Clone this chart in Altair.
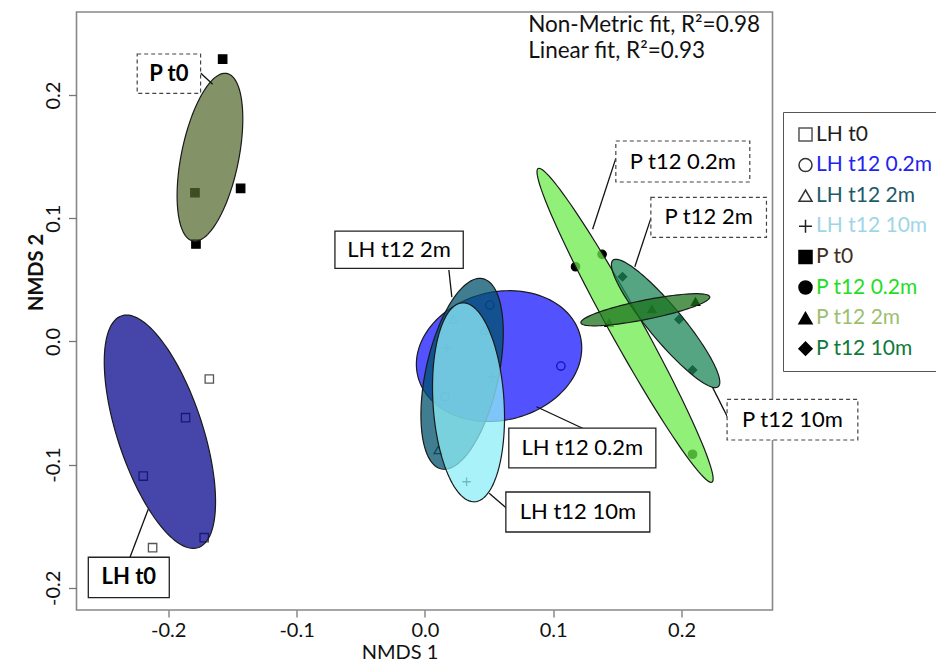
import altair as alt
import pandas as pd
import numpy as np

FONT = "Lato"

groups = ["LH t0", "LH t12 0.2m", "LH t12 2m", "LH t12 10m",
          "P t0", "P t12 0.2m", "P t12 2m", "P t12 10m"]

# ---- sample scores (NMDS 1, NMDS 2) ----
lh_t0_x = [-0.168, -0.1865, -0.2195, -0.172, -0.2122]
lh_t0_y = [-0.0305, -0.0619, -0.1093, -0.1593, -0.1674]
lh_02_x = [0.0506, 0.106, 0.0156]
lh_02_y = [0.0295, -0.020, -0.0449]
lh_2_x = [0.0104, 0.022, 0.046]
lh_2_y = [-0.0881, 0.0179, 0.0093]
lh_10_x = [0.0325, 0.0169, 0.0527]
lh_10_y = [-0.1139, -0.0056, -0.0287]
p_t0_x = [-0.1576, -0.1436, -0.1792, -0.1784]
p_t0_y = [0.2292, 0.1243, 0.1207, 0.0791]
p_02_x = [0.1174, 0.1381, 0.2086]
p_02_y = [0.0606, 0.0707, -0.0916]
p_2_x = [0.1436, 0.1769, 0.2109]
p_2_y = [0.0152, 0.0263, 0.0322]
p_10_x = [0.154, 0.1981, 0.2086]
p_10_y = [0.0525, 0.0179, -0.0232]

# ---- group ellipses: centre, semi-axes, rotation (degrees) ----
ell_group = ["LH t0", "P t0", "LH t12 0.2m", "LH t12 2m", "LH t12 10m",
             "P t12 0.2m", "P t12 10m", "P t12 2m"]
ell_cx = [-0.2065, -0.1675, 0.0578, 0.0290, 0.0340, 0.1560, 0.1876, 0.1718]
ell_cy = [-0.0733, 0.1495, -0.0119, -0.0263, -0.0494, 0.0131, 0.0146, 0.0257]
ell_a = [0.0987, 0.0693, 0.0654, 0.0789, 0.0809, 0.1442, 0.0657, 0.0513]
ell_b = [0.0333, 0.0224, 0.0519, 0.0284, 0.0277, 0.0128, 0.0135, 0.0078]
ell_angle = [-72.6, 79.1, 16.3, 78.3, -86.6, -62.0, -51.5, 11.9]
ell_fill = ["#00008b", "#556b2f", "#0000ff", "#00526c", "#8eeef8",
            "#6ceb4b", "#1c8758", "#1c731c"]
ell_opacity = [0.73, 0.73, 0.68, 0.75, 0.75, 0.75, 0.75, 0.75]

# ---- legend styling ----
legend_shapes = ["square", "circle", "triangle-up", "M-1,0H1M0,-1V1",
                 "square", "circle", "triangle-up", "diamond"]
legend_fill = ["transparent"] * 4 + ["#000000"] * 4
legend_stroke = ["#555555", "#333333", "#333333", "#222222",
                 "#000000", "#000000", "#000000", "#000000"]
label_colors = ["#1e1e1e", "#2323f0", "#1d5a6a", "#9fd6e6",
                "#3e2e1e", "#1ee01e", "#9cc070", "#0f7a3c"]

# ---- annotation boxes ----
box_text = ["P t0", "LH t0", "LH t12 2m", "LH t12 0.2m", "LH t12 10m",
            "P t12 0.2m", "P t12 2m", "P t12 10m"]
box_bold = [True, True, False, False, False, False, False, False]
box_dashed = [True, False, False, False, False, True, True, True]
box_x1 = [-0.2242, -0.2623, -0.0701, 0.0654, 0.0631, 0.1488, 0.1761, 0.2355]
box_x2 = [-0.1748, -0.1992, 0.0299, 0.1800, 0.1753, 0.2532, 0.2662, 0.3374]
box_y1 = [0.2333, -0.1752, 0.0896, -0.0703, -0.1222, 0.1627, 0.1170, -0.0470]
box_y2 = [0.2014, -0.2080, 0.0593, -0.1027, -0.1547, 0.1294, 0.0845, -0.0800]
line_x1 = [-0.1748, -0.2298, 0.0187, 0.0870, 0.0501, 0.1488, 0.1761, 0.2242]
line_y1 = [0.2179, -0.1752, 0.0580, -0.0530, -0.1233, 0.1486, 0.0999, -0.0373]
line_x2 = [-0.1654, -0.2156, 0.0210, 0.1229, 0.0637, 0.1307, 0.1636, 0.2363]
line_y2 = [0.2087, -0.1363, 0.0360, -0.0705, -0.1355, 0.0910, 0.0606, -0.0624]

fit_text = ["Non-Metric fit, R\u00b2=0.98", "Linear fit, R\u00b2=0.93"]
fit_x = [0.0805, 0.0805]
fit_y = [0.2566, 0.2360]

x_ticks = [-0.2, -0.1, 0.0, 0.1, 0.2]
y_ticks = [-0.2, -0.1, 0.0, 0.1, 0.2]
x_domain = [-0.2715, 0.2709]
y_domain = [-0.218, 0.2674]

# ---------------------------------------------------------------
pts = []
for g, xs_, ys_ in [("LH t0", lh_t0_x, lh_t0_y), ("LH t12 0.2m", lh_02_x, lh_02_y),
                    ("LH t12 2m", lh_2_x, lh_2_y), ("LH t12 10m", lh_10_x, lh_10_y),
                    ("P t0", p_t0_x, p_t0_y), ("P t12 0.2m", p_02_x, p_02_y),
                    ("P t12 2m", p_2_x, p_2_y), ("P t12 10m", p_10_x, p_10_y)]:
    for xv, yv in zip(xs_, ys_):
        pts.append({"group": g, "x": xv, "y": yv})
pts = pd.DataFrame(pts)

xs = alt.Scale(domain=x_domain, nice=False, zero=False)
ys = alt.Scale(domain=y_domain, nice=False, zero=False)

label_expr = "replace(format(datum.value, '.1f'), '\u2212', '-')"

x_axis = alt.Axis(values=x_ticks, labelExpr=label_expr, title="NMDS 1", grid=False,
                  domain=False, tickColor="#777777", tickSize=7, tickWidth=1.3,
                  labelFont=FONT, labelFontSize=20, labelColor="#111111", labelPadding=3,
                  titleFont=FONT, titleFontSize=20, titleFontWeight="normal",
                  titleColor="#111111", titleX=323, titleY=42, titleBaseline="middle")
y_axis = alt.Axis(values=y_ticks, labelExpr=label_expr, title="NMDS 2", grid=False,
                  domain=False, tickColor="#777777", tickSize=8, tickWidth=1.3,
                  labelFont=FONT, labelFontSize=20, labelColor="#111111", labelPadding=5,
                  labelAngle=270, labelAlign="center", labelBaseline="bottom",
                  titleFont=FONT, titleFontSize=20, titleFontWeight="bold",
                  titleColor="#111111", titleAngle=270, titleX=-30, titleY=260,
                  titleAlign="center", titleBaseline="bottom")

color_expr = ("[" + ",".join(f"'{c}'" for c in label_colors) + "][indexof(["
              + ",".join(f"'{g}'" for g in groups) + "], datum.label)]")

leg = alt.Legend(title=None, orient="none", legendX=706.5, legendY=100,
                 labelFont=FONT, labelFontSize=21, labelColor=alt.ExprRef(color_expr),
                 symbolSize=170, symbolStrokeWidth=1.5, strokeColor="#555555",
                 fillColor="white", padding=12, rowPadding=8.6, labelOffset=0,
                 labelLimit=400)

points = alt.Chart(pts).mark_point(size=70, strokeWidth=1.3, opacity=1).encode(
    x=alt.X("x:Q", scale=xs, axis=x_axis),
    y=alt.Y("y:Q", scale=ys, axis=y_axis),
    shape=alt.Shape("group:N", scale=alt.Scale(domain=groups, range=legend_shapes), legend=leg),
    fill=alt.Fill("group:N", scale=alt.Scale(domain=groups, range=legend_fill), legend=leg),
    stroke=alt.Stroke("group:N", scale=alt.Scale(domain=groups, range=legend_stroke), legend=leg),
)

layers = [points]
t = np.linspace(0, 2 * np.pi, 120, endpoint=False)
for g, cx, cy, a, b, ang, fc, op in zip(ell_group, ell_cx, ell_cy, ell_a, ell_b,
                                         ell_angle, ell_fill, ell_opacity):
    th = np.deg2rad(ang)
    ex = cx + a * np.cos(t) * np.cos(th) - b * np.sin(t) * np.sin(th)
    ey = cy + a * np.cos(t) * np.sin(th) + b * np.sin(t) * np.cos(th)
    df = pd.DataFrame({"x": ex, "y": ey, "i": np.arange(len(t))})
    layers.append(alt.Chart(df).mark_line(interpolate="linear-closed", fill=fc,
                                          fillOpacity=op, stroke="#1a1a1a",
                                          strokeWidth=1.2).encode(
        x=alt.X("x:Q", scale=xs), y=alt.Y("y:Q", scale=ys), order="i:Q"))

boxes = pd.DataFrame({"text": box_text, "bold": box_bold, "dashed": box_dashed,
                      "x1": box_x1, "x2": box_x2, "y1": box_y1, "y2": box_y2,
                      "lx1": line_x1, "ly1": line_y1, "lx2": line_x2, "ly2": line_y2})
boxes["tx"] = (boxes["x1"] + boxes["x2"]) / 2
boxes["ty"] = (boxes["y1"] + boxes["y2"]) / 2

callouts = alt.Chart(boxes).mark_rule(color="#111111", strokeWidth=1.3).encode(
    x=alt.X("lx1:Q", scale=xs), y=alt.Y("ly1:Q", scale=ys), x2="lx2:Q", y2="ly2:Q")
solid_boxes = alt.Chart(boxes[~boxes["dashed"]]).mark_rect(
    fill="white", stroke="#222222", strokeWidth=1.3).encode(
    x=alt.X("x1:Q", scale=xs), x2="x2:Q", y=alt.Y("y1:Q", scale=ys), y2="y2:Q")
dashed_boxes = alt.Chart(boxes[boxes["dashed"]]).mark_rect(
    fill="white", stroke="#444444", strokeWidth=1.2, strokeDash=[4, 3]).encode(
    x=alt.X("x1:Q", scale=xs), x2="x2:Q", y=alt.Y("y1:Q", scale=ys), y2="y2:Q")
bold_text = alt.Chart(boxes[boxes["bold"]]).mark_text(
    font=FONT, fontSize=22, fontWeight="bold", color="#000000").encode(
    x=alt.X("tx:Q", scale=xs), y=alt.Y("ty:Q", scale=ys), text="text:N")
normal_text = alt.Chart(boxes[~boxes["bold"]]).mark_text(
    font=FONT, fontSize=22, color="#000000").encode(
    x=alt.X("tx:Q", scale=xs), y=alt.Y("ty:Q", scale=ys), text="text:N")

fit = alt.Chart(pd.DataFrame({"t": fit_text, "x": fit_x, "y": fit_y})).mark_text(
    font=FONT, fontSize=22.5, align="left", baseline="middle", color="#111111").encode(
    x=alt.X("x:Q", scale=xs), y=alt.Y("y:Q", scale=ys), text="t:N")

layers += [callouts, solid_boxes, dashed_boxes, bold_text, normal_text, fit]

chart = alt.layer(*layers).properties(
    width=696, height=598,
    autosize=alt.AutoSizeParams(type="none"),
    padding={"left": 68.5, "top": 4, "right": 163, "bottom": 51},
).configure_view(stroke="#888888", strokeWidth=1.6)

chart.save("out.html", embed_options={"renderer": "svg", "actions": False})
